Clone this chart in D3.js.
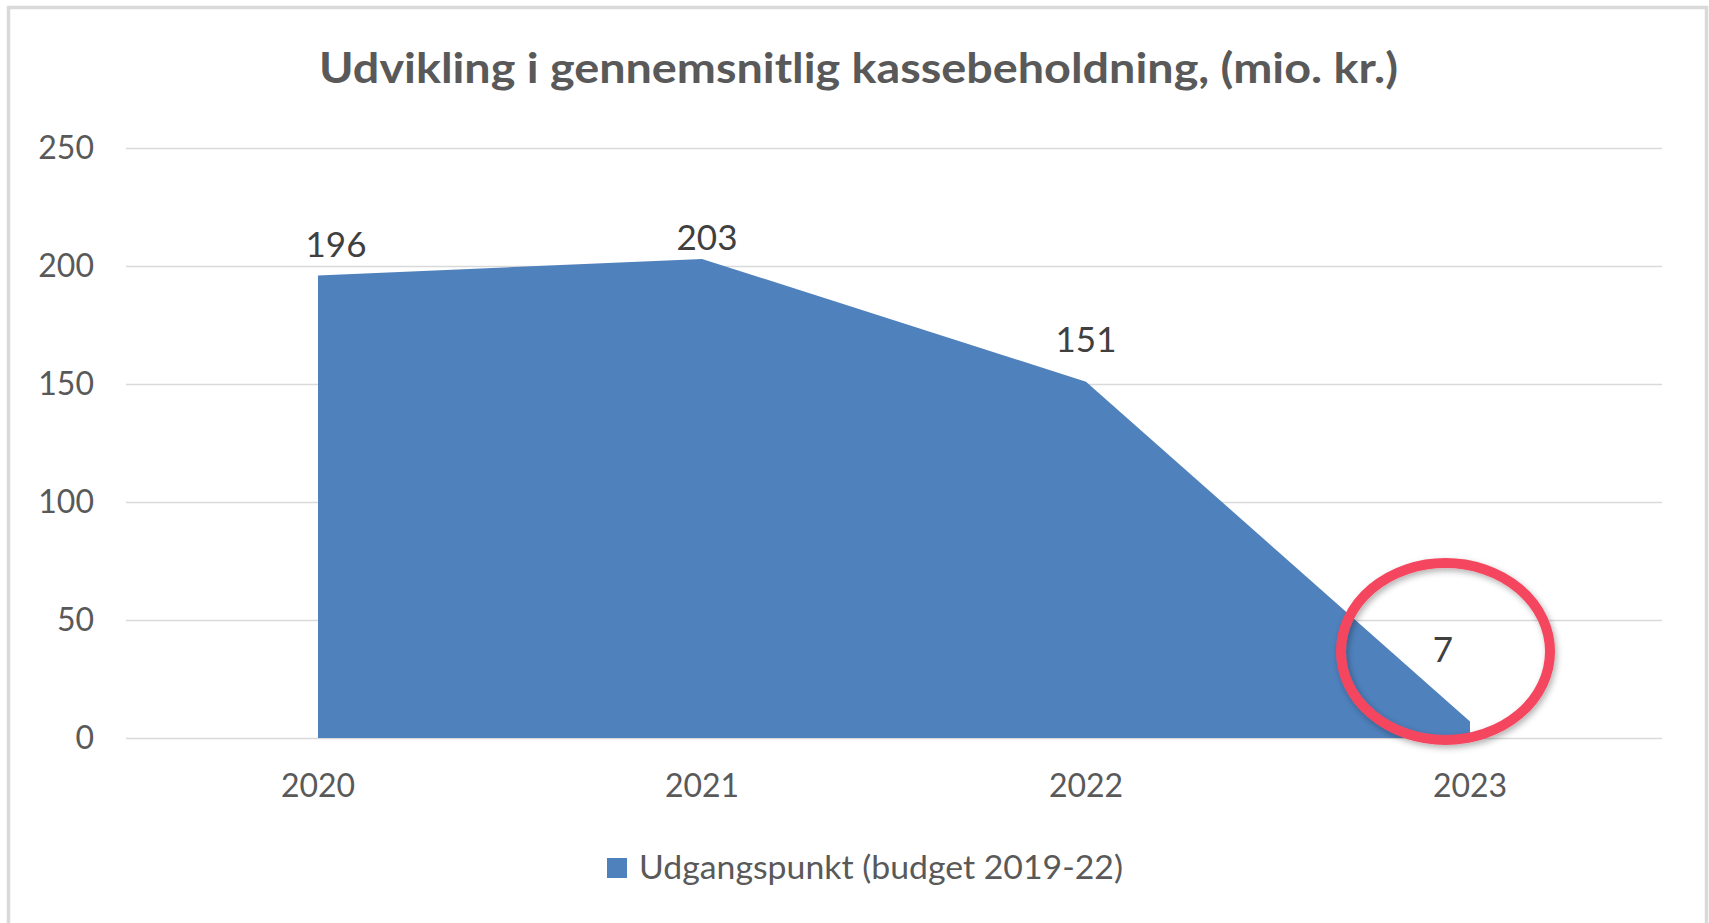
<!DOCTYPE html>
<html>
<head>
<meta charset="utf-8">
<script src="https://cdn.jsdelivr.net/npm/d3@7"></script>
<style>
  html, body { margin: 0; padding: 0; background: #ffffff; overflow: hidden; }
  svg { display: block; }
  text { font-family: Lato, "Open Sans", sans-serif; }
</style>
</head>
<body>
<svg id="chart" width="1709" height="923"></svg>
<script>
// ---- data ----
const categories = ["2020", "2021", "2022", "2023"];
const values = [196, 203, 151, 7];
const yTicks = [0, 50, 100, 150, 200, 250];
const seriesName = "Udgangspunkt (budget 2019-22)";
const titleText = "Udvikling i gennemsnitlig kassebeholdning, (mio. kr.)";

// ---- layout ----
const W = 1709, H = 923;
const plot = { left: 126, right: 1662, top: 148, bottom: 738 };
const labelOffsets = [[18, -18], [5, -9], [0, -30], [-27, -59]];
const colors = { area: "#4F81BD", grid: "#D9D9D9", axisText: "#595959", label: "#404040", title: "#595959", ring: "#F4465F", frame: "#D9D9D9" };

const svg = d3.select("#chart");

// frame
svg.append("rect")
  .attr("x", 8.5).attr("y", 7.5).attr("width", 1698).attr("height", 1000)
  .attr("fill", "#ffffff").attr("stroke", colors.frame).attr("stroke-width", 3.5);

const x = d3.scaleBand().domain(categories).range([plot.left, plot.right]).padding(0);
const y = d3.scaleLinear().domain([0, 250]).range([plot.bottom, plot.top]);
const cx = c => x(c) + x.bandwidth() / 2;

// gridlines
svg.append("g").selectAll("line").data(yTicks).join("line")
  .attr("x1", plot.left).attr("x2", plot.right)
  .attr("y1", d => Math.round(y(d)) + 0.5).attr("y2", d => Math.round(y(d)) + 0.5)
  .attr("stroke", colors.grid).attr("stroke-width", 1.6);

// y tick labels
svg.append("g").selectAll("text").data(yTicks).join("text")
  .attr("x", 94).attr("y", d => y(d))
  .attr("dy", "0.35em")
  .attr("text-anchor", "end")
  .attr("font-size", 32).attr("fill", colors.axisText)
  .text(d => d);

// area
const data = categories.map((c, i) => ({ c, v: values[i] }));
const area = d3.area().x(d => cx(d.c)).y0(y(0)).y1(d => y(d.v));
svg.append("path").datum(data)
  .attr("d", area).attr("fill", colors.area);

// x labels
svg.append("g").selectAll("text").data(categories).join("text")
  .attr("x", d => cx(d)).attr("y", 797)
  .attr("text-anchor", "middle")
  .attr("font-size", 32).attr("fill", colors.axisText)
  .text(d => d);

// data labels
svg.append("g").selectAll("text").data(data).join("text")
  .attr("x", (d, i) => cx(d.c) + labelOffsets[i][0])
  .attr("y", (d, i) => y(d.v) + labelOffsets[i][1])
  .attr("text-anchor", "middle")
  .attr("font-size", 35).attr("fill", colors.label)
  .text(d => d.v);

// title
svg.append("text")
  .attr("x", 858.5).attr("y", 83)
  .attr("text-anchor", "middle")
  .attr("font-size", 42).attr("font-weight", "bold").attr("fill", colors.title)
  .attr("textLength", 1079).attr("lengthAdjust", "spacingAndGlyphs")
  .text(titleText);

// legend
svg.append("rect").attr("x", 607).attr("y", 858).attr("width", 20).attr("height", 20).attr("fill", colors.area);
svg.append("text")
  .attr("x", 639).attr("y", 878.5)
  .attr("font-size", 33).attr("fill", colors.axisText)
  .attr("textLength", 484).attr("lengthAdjust", "spacingAndGlyphs")
  .text(seriesName);

// annotation ring around last point
const defs = svg.append("defs");
const f = defs.append("filter").attr("id", "shadow").attr("x", "-20%").attr("y", "-20%").attr("width", "140%").attr("height", "140%");
f.append("feDropShadow").attr("dx", 2).attr("dy", 3).attr("stdDeviation", 3).attr("flood-color", "#000").attr("flood-opacity", 0.3);
const last = data[data.length - 1];
svg.append("ellipse")
  .attr("cx", cx(last.c) - 24.5).attr("cy", y(last.v) - 70)
  .attr("rx", 104.5).attr("ry", 88.5)
  .attr("fill", "none").attr("stroke", colors.ring).attr("stroke-width", 10)
  .attr("filter", "url(#shadow)");
</script>
</body>
</html>
